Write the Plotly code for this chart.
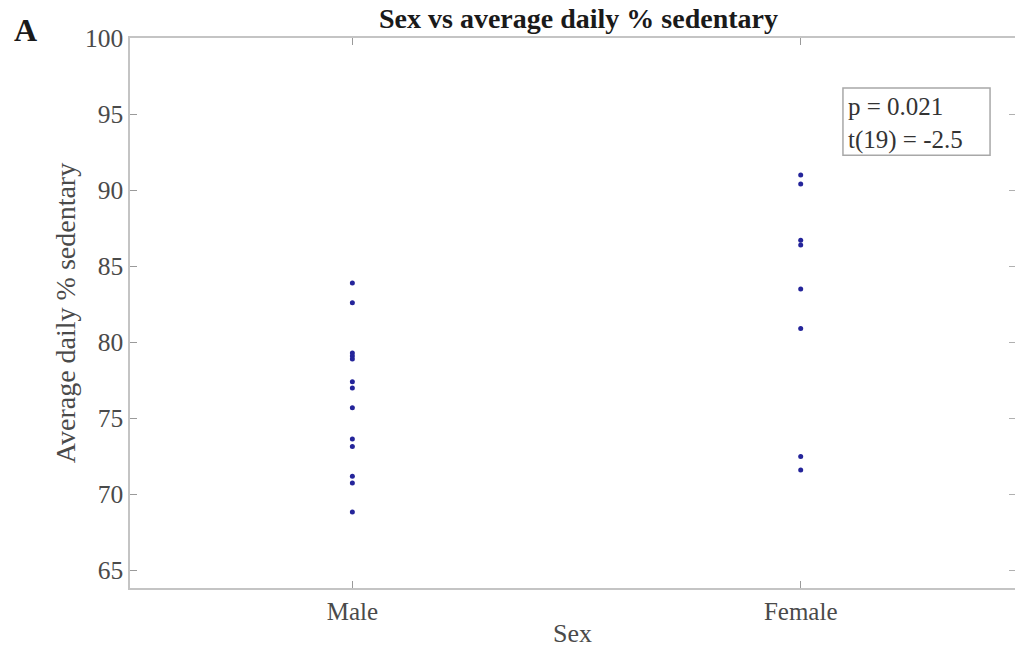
import plotly.graph_objects as go

# Average daily % sedentary per participant, grouped by sex
male_vals = [83.9, 82.6, 79.3, 79.1, 78.9, 77.4, 77.0, 75.7, 73.65, 73.15, 71.2, 70.75, 68.85]
female_vals = [91.0, 90.4, 86.7, 86.4, 83.5, 80.9, 72.5, 71.6]
categories = ["Male", "Female"]
y_ticks = [65, 70, 75, 80, 85, 90, 95, 100]
stats_lines = ["p = 0.021", "t(19) = -2.5"]

FONT = "Liberation Serif"
AXIS_GREY = "#c4c4c4"
TEXT_GREY = "#4a4a4a"
DOT = "#24249a"
Y_RANGE = [63.85, 100]
X_RANGE = [-0.496, 1.478]

fig = go.Figure()
fig.add_trace(go.Scatter(
    x=[categories[0]] * len(male_vals) + [categories[1]] * len(female_vals),
    y=male_vals + female_vals,
    mode="markers",
    marker=dict(color=DOT, size=5, line=dict(width=0)),
    showlegend=False,
    hoverinfo="y",
))
# invisible trace carrying the top/right tick axes
fig.add_trace(go.Scatter(x=[categories[0]], y=[male_vals[0]], xaxis="x2", yaxis="y2",
                         mode="markers", marker=dict(opacity=0),
                         showlegend=False, hoverinfo="skip"))

tick_style = dict(ticks="inside", ticklen=7, tickcolor="#9a9a9a", tickwidth=1,
                  showgrid=False, zeroline=False)

fig.update_layout(
    template="none",
    width=1015, height=657,
    margin=dict(l=130, r=0, t=38, b=69),
    paper_bgcolor="white", plot_bgcolor="white",
    font=dict(family=FONT, color=TEXT_GREY),
    xaxis=dict(
        type="category", categoryorder="array", categoryarray=categories, range=X_RANGE,
        showline=True, linecolor=AXIS_GREY, linewidth=1.5, mirror=False, **tick_style,
        tickfont=dict(family=FONT, size=25, color=TEXT_GREY),
        title=dict(text="Sex", font=dict(family=FONT, size=26, color=TEXT_GREY), standoff=0),
    ),
    yaxis=dict(
        range=Y_RANGE, tickvals=y_ticks,
        showline=True, linecolor=AXIS_GREY, linewidth=1.5, mirror=False, **tick_style,
        tickfont=dict(family=FONT, size=25.5, color=TEXT_GREY),
        title=dict(text="Average daily % sedentary",
                   font=dict(family=FONT, size=28, color=TEXT_GREY), standoff=1),
    ),
    xaxis2=dict(
        type="category", categoryorder="array", categoryarray=categories, range=X_RANGE,
        overlaying="x", side="top", anchor="y2",
        showline=True, linecolor=AXIS_GREY, linewidth=1.5, showticklabels=False, **tick_style,
    ),
    yaxis2=dict(
        range=Y_RANGE, tickvals=y_ticks, overlaying="y", side="right", anchor="x2",
        showline=False, showticklabels=False,
        ticks="inside", ticklen=6, tickcolor="#b0b0b0", showgrid=False, zeroline=False,
    ),
)

fig.add_annotation(
    text="<b>Sex vs average daily % sedentary</b>",
    xref="paper", yref="paper", x=0.507, y=1.0, yshift=20,
    xanchor="center", yanchor="middle", showarrow=False,
    font=dict(family=FONT, size=28, color="#1a1a1a"),
)
fig.add_annotation(
    text="<b>A</b>",
    xref="paper", yref="paper", x=-0.1333, y=1.0, yshift=8,
    xanchor="left", yanchor="middle", showarrow=False,
    font=dict(family=FONT, size=32, color="#1a1a1a"),
)

# stats text box: fixed-size frame with the text inside it
fig.add_shape(type="rect", xref="paper", yref="paper",
              x0=0.8056, x1=0.9718, y0=0.787, y1=0.909,
              line=dict(color="#a8a8a8", width=1.5), fillcolor="white", layer="below")
fig.add_annotation(
    text="<br>".join(stats_lines),
    xref="paper", yref="paper", x=0.8056, y=0.909, xshift=2, yshift=-2,
    xanchor="left", yanchor="top", align="left", showarrow=False,
    borderpad=2, font=dict(family=FONT, size=25, color="#333333"),
)

fig.write_html("out.html")
